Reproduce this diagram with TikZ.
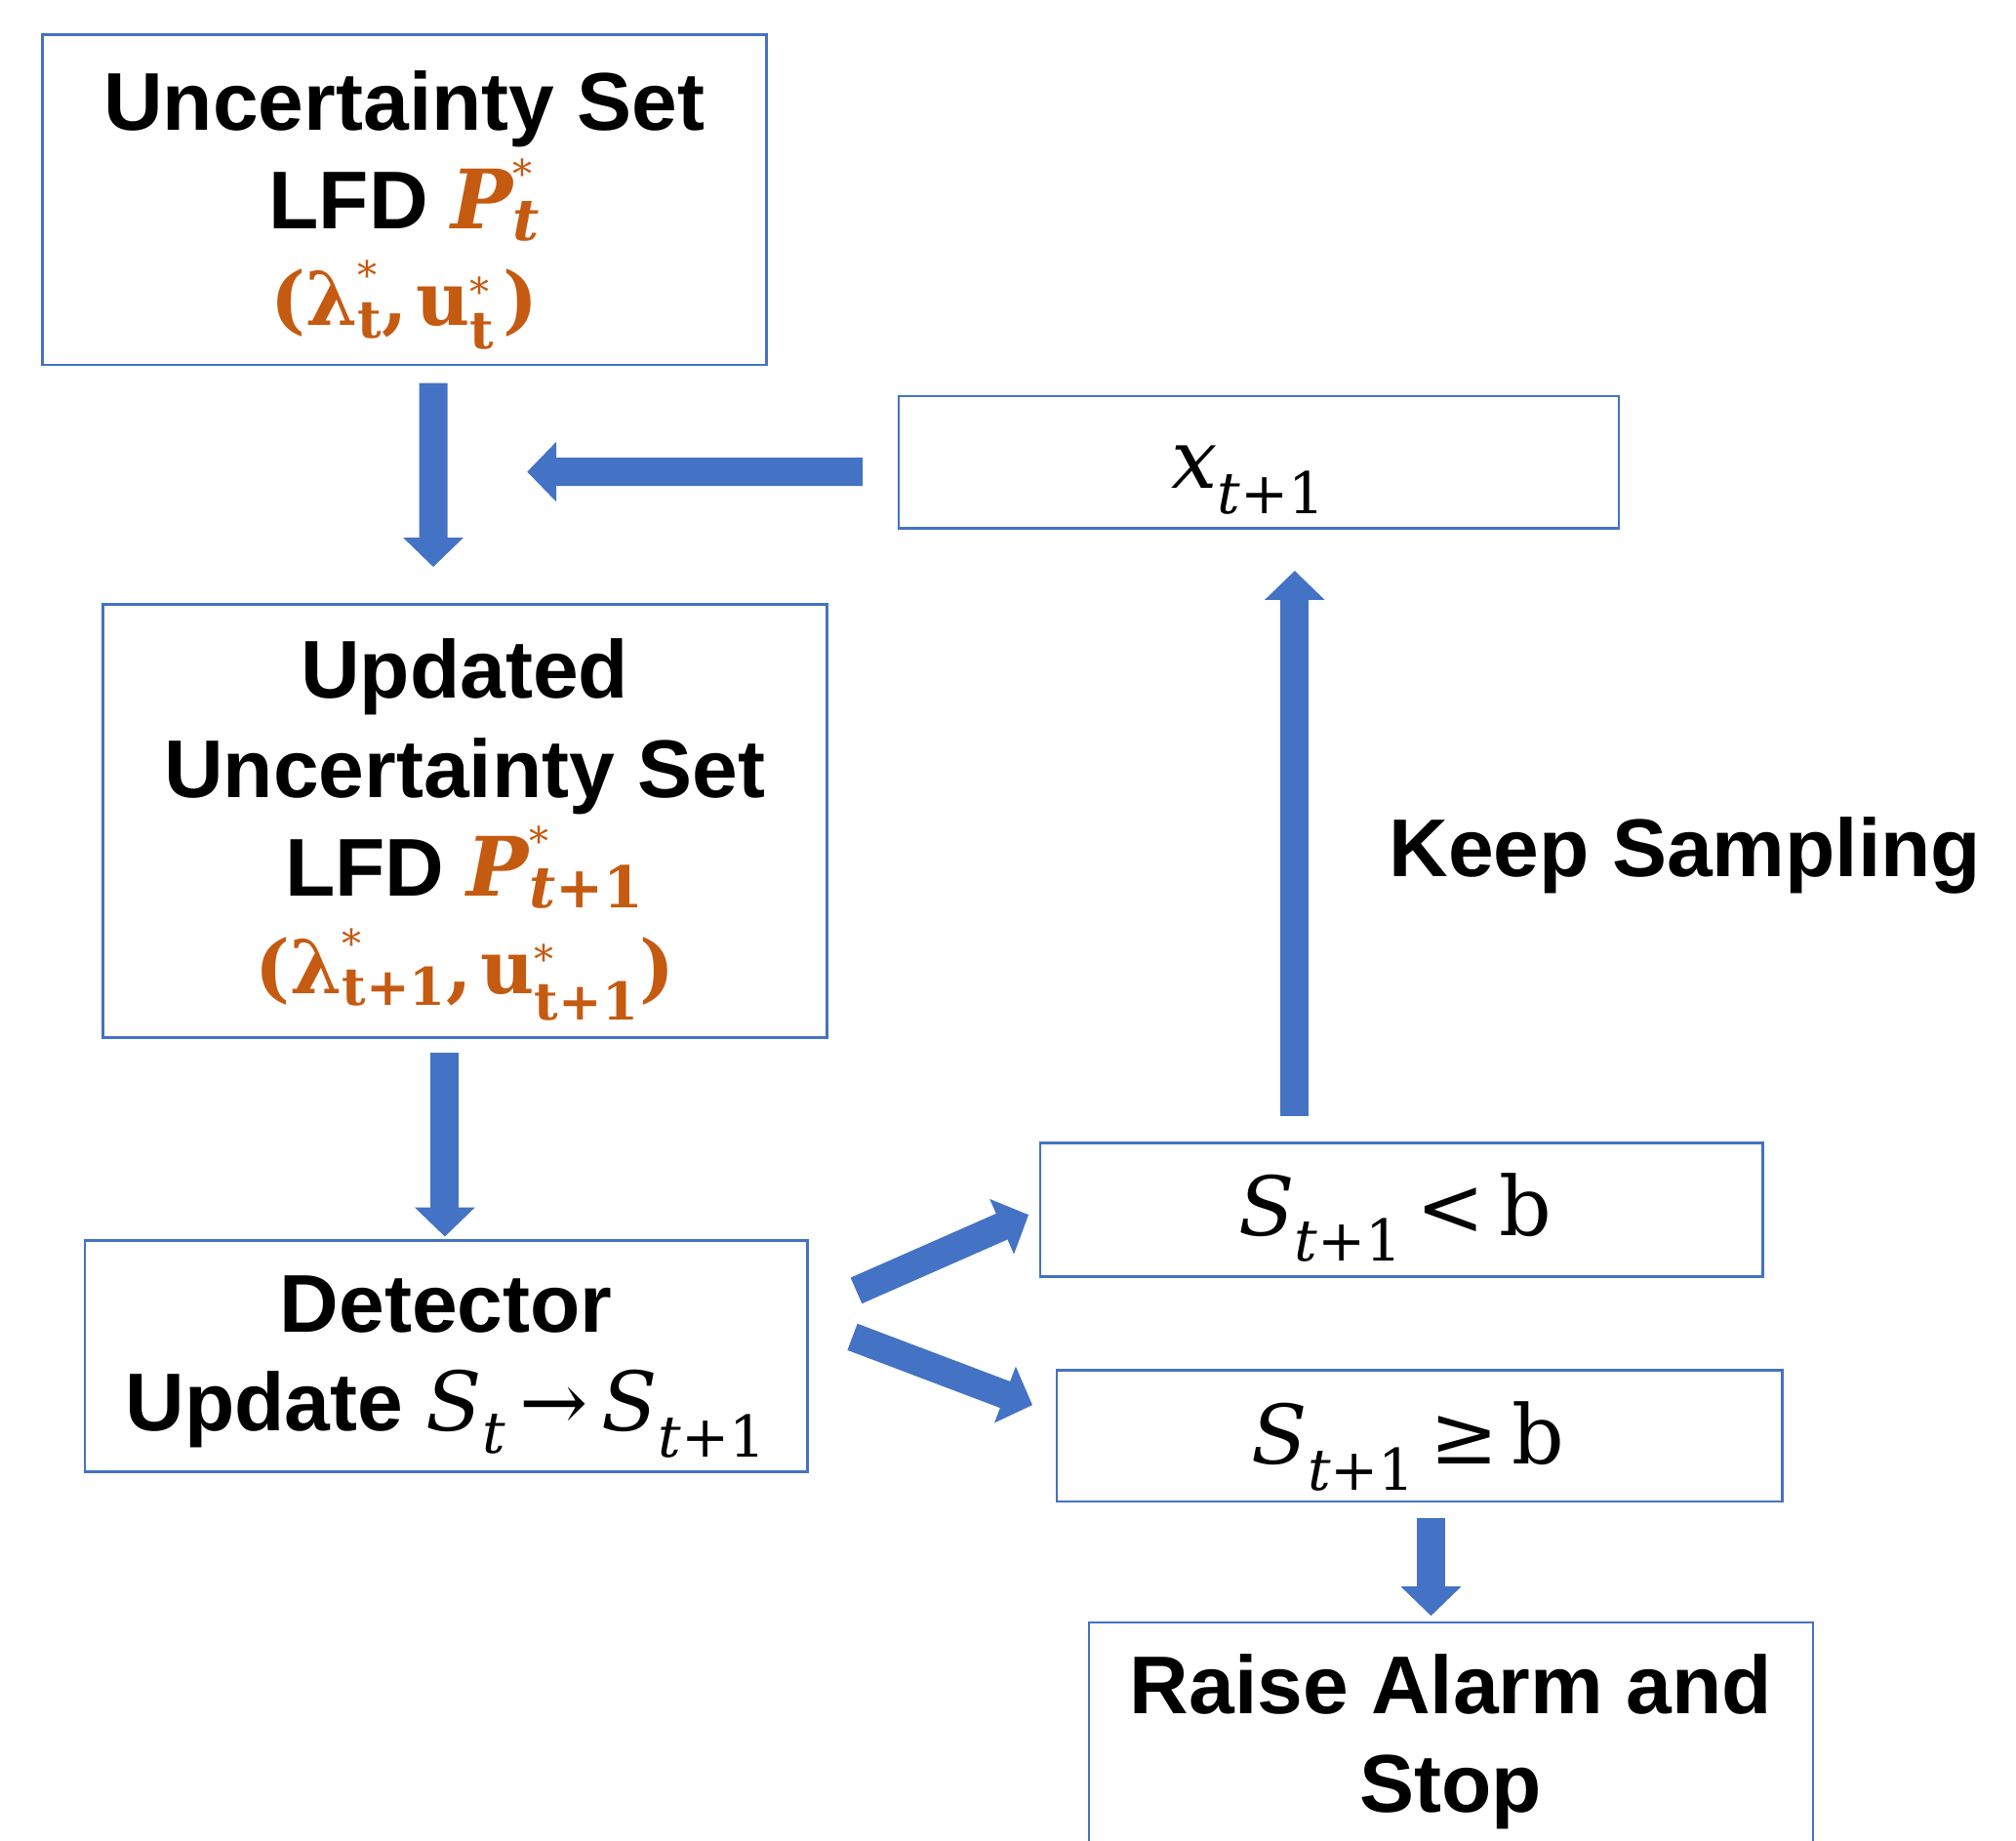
\documentclass[tikz,border=0pt]{standalone}
\usepackage{fontspec}
\setmainfont{Liberation Sans}
\newfontfamily\serif{DejaVu Serif}
\usepackage{amsmath}
\usetikzlibrary{arrows.meta,calc}
\definecolor{oblue}{HTML}{4472C4}
\definecolor{oorange}{HTML}{C55A11}
\newcommand{\mi}[1]{\text{\serif\mdseries\itshape #1}}
\newcommand{\mup}[1]{\text{\serif\mdseries\upshape #1}}
\newcommand{\obi}[1]{\text{\serif\bfseries\itshape #1}}
\newcommand{\obu}[1]{\text{\serif\bfseries\upshape #1}}
\newcommand{\st}{\text{\fontsize{20}{20}\selectfont\serif\mdseries *}}
\newcommand{\smallline}{\fontsize{38}{46}\selectfont}
\begin{document}
\begin{tikzpicture}[x=0.6588pt,y=-0.6588pt,
  box/.style={draw=oblue, line width=1.3pt, inner sep=0pt},
  txt/.style={inner sep=0pt, align=center, font=\fontsize{42}{50.7}\selectfont\bfseries},
  barrow/.style={draw=oblue, line width=14.5pt, -{Triangle[length=15pt, width=30pt]}}]
\useasboundingbox (0,0) rectangle (1568,1432);
\clip (0,0) rectangle (1568,1432);
% boxes
\node[box, minimum width=563*0.6588pt, minimum height=257*0.6588pt] (b1) at (314.5,155.5) {};
\node[box, minimum width=563*0.6588pt, minimum height=337*0.6588pt] (b2) at (361.5,638.5) {};
\node[box, minimum width=562*0.6588pt, minimum height=180*0.6588pt] (b3) at (347,1055) {};
\node[box, minimum width=560*0.6588pt, minimum height=103*0.6588pt] (bx) at (979,359.5) {};
\node[box, minimum width=562*0.6588pt, minimum height=104*0.6588pt] (blt) at (1090,941) {};
\node[box, minimum width=564*0.6588pt, minimum height=102*0.6588pt] (bge) at (1104,1117) {};
\node[box, minimum width=563*0.6588pt, minimum height=196*0.6588pt] (bra) at (1128.5,1360) {};
% texts
\node[txt] (t1) at ($(b1.center)+(0,8)$)
  {Uncertainty Set\\ LFD {\color{oorange}$\obi{P}^{\st}_{\obi{t}}$}\\[-1pt]
   {\smallline\color{oorange}$\obu{(}\obu{λ}^{\st}_{\obu{t}}\obu{,}\,\obu{u}^{\st}_{\obu{t}}\,\obu{)}$}};
\node[txt] (t2) at ($(b2.center)+(0,7)$)
  {Updated\\ Uncertainty Set\\ LFD {\color{oorange}$\obi{P}^{\st}_{\obi{t}\obu{+1}}$}\\[-1pt]
   {\smallline\color{oorange}$\obu{(}\obu{λ}^{\st}_{\obu{t+1}}\obu{,}\,\obu{u}^{\st}_{\obu{t+1}}\obu{)}$}};
\node[txt] (t3) at ($(b3.center)+(0,8)$)
  {Detector\\ Update $\mi{S}_{\mi{t}}\mathrel{\mup{→}}\mi{S}_{\mi{t}\mup{+1}}$};
\node[txt] (tx) at ($(bx.center)+(-8,14)$) {$\mi{x}_{\mi{t}\mup{+1}}$};
\node[txt] (tlt) at ($(blt.center)+(-5,6)$) {$\mi{S}_{\mi{t}\mup{+1}}\mathrel{\mup{<}}\mup{b}$};
\node[txt] (tge) at ($(bge.center)+(-9,8)$) {$\mi{S}_{\mi{t}\mup{+1}}\mathrel{\mup{≥}}\mup{b}$};
\node[txt] (tra) at ($(bra.center)+(0,-5)$) {Raise Alarm and\\ Stop};
\node[txt, anchor=base west] (ks) at (1080,682) {Keep Sampling};
% connectors
\coordinate (lt) at (410,367);
\draw[barrow] ($(b1.south)+(22.5,13)$) -- ($(b2.north)+(-24.5,-28)$);
\draw[barrow] ($(bx.west)+(-27,7.5)$) -- (lt);
\draw[barrow] ($(b2.south)+(-15.5,11)$) -- ($(b3.north)+(-1,-2)$);
\draw[barrow] ($(blt.north)+(-83,-20)$) -- ($(bx.south)+(28,32)$);
\draw[barrow] ($(b3.east)+(37,-51)$) -- ($(blt.west)+(-8,4)$);
\draw[barrow] ($(b3.east)+(34,-15)$) -- ($(bge.west)+(-18,-24)$);
\draw[barrow] ($(bge.south)+(9,12)$) -- ($(bra.north)+(-15.5,-4)$);
\end{tikzpicture}
\end{document}
